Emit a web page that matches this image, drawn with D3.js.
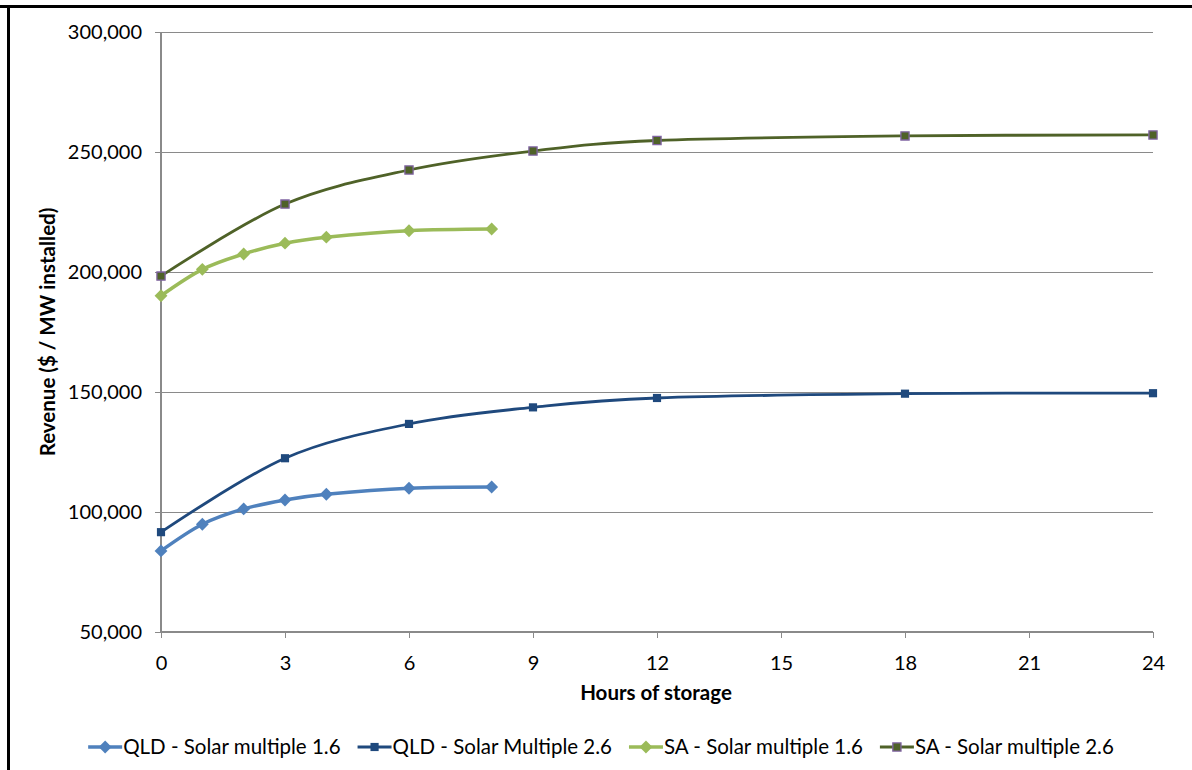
<!DOCTYPE html>
<html>
<head>
<meta charset="utf-8">
<script src="https://cdn.jsdelivr.net/npm/d3@7"></script>
<style>
  html, body { margin: 0; padding: 0; background: #fff; }
  svg { display: block; font-family: Lato, "Open Sans", sans-serif; }
</style>
</head>
<body>
<svg id="chart" width="1192" height="770"></svg>
<script>
// Revenue per MW installed vs hours of storage
const hoursShort = [0, 1, 2, 3, 4, 6, 8];
const hoursLong  = [0, 3, 6, 9, 12, 18, 24];

const qld16 = [83800, 94900, 101300, 105000, 107400, 109900, 110400];
const qld26 = [91600, 122400, 136700, 143600, 147500, 149300, 149500];
const sa16  = [190100, 201100, 207500, 212000, 214500, 217200, 217900];
const sa26  = [198300, 228300, 242500, 250400, 254800, 256700, 257100];

const seriesNames = [
  "QLD - Solar multiple 1.6",
  "QLD - Solar Multiple 2.6",
  "SA - Solar multiple 1.6",
  "SA - Solar multiple 2.6"
];

const xTicks = [0, 3, 6, 9, 12, 15, 18, 21, 24];
const yTicks = [50000, 100000, 150000, 200000, 250000, 300000];

const series = [
  { name: seriesNames[0], x: hoursShort, y: qld16, color: "#4F81BD", width: 3.5, marker: "diamond", stroke: null },
  { name: seriesNames[1], x: hoursLong,  y: qld26, color: "#1F497D", width: 2.8, marker: "square",  stroke: null },
  { name: seriesNames[2], x: hoursShort, y: sa16,  color: "#9BBB59", width: 3.5, marker: "diamond", stroke: null },
  { name: seriesNames[3], x: hoursLong,  y: sa26,  color: "#4F6228", width: 2.8, marker: "square",  stroke: "#8064A2" }
];

const svg = d3.select("#chart");

// outer frame edges
svg.append("line").attr("x1", 0).attr("x2", 1192).attr("y1", 6.5).attr("y2", 6.5)
  .attr("stroke", "#000").attr("stroke-width", 3);
svg.append("line").attr("x1", 8.5).attr("x2", 8.5).attr("y1", 5).attr("y2", 770)
  .attr("stroke", "#000").attr("stroke-width", 3);

const plot = { left: 161, right: 1153, top: 32, bottom: 632 };

const x = d3.scaleLinear().domain([0, 24]).range([plot.left, plot.right]);
const y = d3.scaleLinear().domain([50000, 300000]).range([plot.bottom, plot.top]);

const fmt = d3.format(",");
const tickFont = 20;

// horizontal gridlines with short left ticks
const yAxis = svg.append("g")
  .attr("transform", `translate(${plot.left},0)`)
  .call(d3.axisLeft(y).tickValues(yTicks).tickFormat(fmt)
    .tickSize(-(plot.right - plot.left)).tickPadding(19));
yAxis.select(".domain").remove();
yAxis.selectAll(".tick line").attr("stroke", "#8a8a8a").attr("stroke-width", 1.2).attr("x1", -6)
  .attr("shape-rendering", "crispEdges");
yAxis.selectAll(".tick text").attr("font-size", tickFont).attr("fill", "#000")
  .attr("font-family", "Lato, sans-serif");

// vertical axis line
svg.append("line").attr("x1", plot.left).attr("x2", plot.left)
  .attr("y1", plot.top).attr("y2", plot.bottom)
  .attr("stroke", "#8a8a8a").attr("stroke-width", 1.2).attr("shape-rendering", "crispEdges");

// x axis
const xAxis = svg.append("g")
  .attr("transform", `translate(0,${plot.bottom})`)
  .call(d3.axisBottom(x).tickValues(xTicks).tickSize(6).tickPadding(18));
xAxis.select(".domain").attr("stroke", "#8a8a8a").attr("stroke-width", 1.2).attr("d", `M${plot.left},0H${plot.right}`)
  .attr("shape-rendering", "crispEdges");
xAxis.selectAll(".tick line").attr("stroke", "#8a8a8a").attr("stroke-width", 1.2)
  .attr("shape-rendering", "crispEdges");
xAxis.selectAll(".tick text").attr("font-size", tickFont).attr("fill", "#000")
  .attr("font-family", "Lato, sans-serif");

// axis titles
svg.append("text")
  .attr("x", plot.left + (plot.right - plot.left) / 2 - 1)
  .attr("y", 700)
  .attr("text-anchor", "middle")
  .attr("font-size", 20.5).attr("font-weight", "bold")
  .text("Hours of storage");

svg.append("text")
  .attr("transform", `translate(55,${(plot.top + plot.bottom) / 2}) rotate(-90)`)
  .attr("text-anchor", "middle")
  .attr("font-size", 20.5).attr("font-weight", "bold")
  .text("Revenue ($ / MW installed)");

// series lines
const line = d3.line()
  .x(d => x(d[0]))
  .y(d => y(d[1]))
  .curve(d3.curveCardinal.tension(0));

const symbolPath = (type, size) => d3.symbol()
  .type(type === "diamond" ? d3.symbolDiamond2 : d3.symbolSquare2)
  .size(size)();

series.forEach(s => {
  const pts = s.x.map((h, i) => [h, s.y[i]]);
  const g = svg.append("g");
  g.append("path")
    .attr("d", line(pts))
    .attr("fill", "none")
    .attr("stroke", s.color)
    .attr("stroke-width", s.width)
    .attr("stroke-linejoin", "round");
  g.selectAll("path.marker")
    .data(pts)
    .join("path")
    .attr("class", "marker")
    .attr("transform", d => `translate(${x(d[0])},${y(d[1])})`)
    .attr("d", symbolPath(s.marker, s.marker === "diamond" ? 105 : 85))
    .attr("fill", s.color)
    .attr("stroke", s.stroke || "none")
    .attr("stroke-width", s.stroke ? 1.3 : 0);
});

// legend, laid out in one row and centred under the chart
const keyLen = 34, keyGap = 17, legendCenter = 601;
const legend = svg.append("g").attr("transform", "translate(0,747)");
let cursor = 0;
series.forEach(s => {
  const item = legend.append("g").attr("transform", `translate(${cursor},0)`);
  item.append("line").attr("x1", 0).attr("x2", keyLen).attr("y1", 0).attr("y2", 0)
    .attr("stroke", s.color).attr("stroke-width", s.width);
  item.append("path")
    .attr("transform", `translate(${keyLen / 2},0)`)
    .attr("d", symbolPath(s.marker, s.marker === "diamond" ? 105 : 85))
    .attr("fill", s.color)
    .attr("stroke", s.stroke || "none")
    .attr("stroke-width", s.stroke ? 1.3 : 0);
  const t = item.append("text")
    .attr("x", keyLen + 1).attr("y", 7)
    .attr("font-size", 20.5)
    .text(s.name);
  cursor += keyLen + 1 + t.node().getComputedTextLength() + keyGap;
});
const totalWidth = cursor - keyGap;
legend.attr("transform", `translate(${legendCenter - totalWidth / 2},747)`);
</script>
</body>
</html>
